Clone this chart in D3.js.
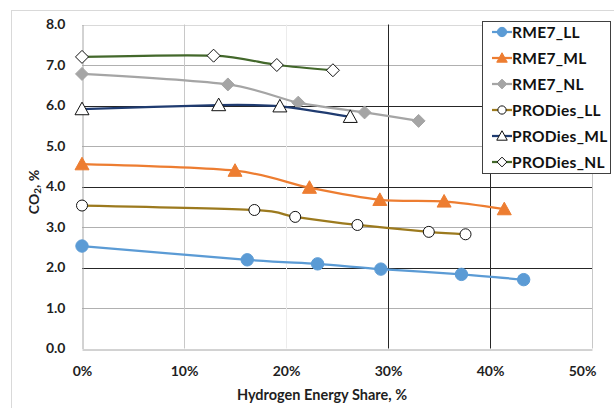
<!DOCTYPE html>
<html>
<head>
<meta charset="utf-8">
<script src="https://cdn.jsdelivr.net/npm/d3@7"></script>
<style>
  html, body { margin: 0; padding: 0; background: #fff; }
  svg { display: block; font-family: Lato, "Open Sans", sans-serif; }
</style>
</head>
<body>
<svg id="chart" width="614" height="408"></svg>
<script>
// Hydrogen energy share (%) and CO2 (%) per fuel / load series
const rme7LL_x = [0, 16.2, 23.1, 29.3, 37.2, 43.3];
const rme7LL_y = [2.53, 2.19, 2.09, 1.96, 1.83, 1.70];

const rme7ML_x = [0, 15.0, 22.3, 29.2, 35.5, 41.4];
const rme7ML_y = [4.55, 4.39, 3.97, 3.67, 3.63, 3.44];

const rme7NL_x = [0, 14.3, 21.2, 27.7, 33.0];
const rme7NL_y = [6.78, 6.52, 6.07, 5.83, 5.62];

const prodLL_x = [0, 16.9, 20.9, 27.0, 34.0, 37.6];
const prodLL_y = [3.53, 3.42, 3.25, 3.05, 2.88, 2.82];

const prodML_x = [0, 13.4, 19.4, 26.3];
const prodML_y = [5.91, 6.01, 5.98, 5.72];

const prodNL_x = [0, 12.9, 19.1, 24.6];
const prodNL_y = [7.20, 7.23, 7.00, 6.87];

const seriesNames = ["RME7_LL", "RME7_ML", "RME7_NL", "PRODies_LL", "PRODies_ML", "PRODies_NL"];
const xTicks = [0, 10, 20, 30, 40, 50];
const yTicks = [0, 1, 2, 3, 4, 5, 6, 7, 8];

const series = [
  { name: seriesNames[0], xs: rme7LL_x, ys: rme7LL_y, line: "#5b9bd5", shape: "circle",   fill: "#5b9bd5", stroke: "#5b9bd5", size: 6.2 },
  { name: seriesNames[1], xs: rme7ML_x, ys: rme7ML_y, line: "#ed7d31", shape: "triangle", fill: "#ed7d31", stroke: "#ed7d31", size: 7 },
  { name: seriesNames[2], xs: rme7NL_x, ys: rme7NL_y, line: "#a5a5a5", shape: "diamond",  fill: "#a5a5a5", stroke: "#a5a5a5", size: 6.5 },
  { name: seriesNames[3], xs: prodLL_x, ys: prodLL_y, line: "#9c7a1e", shape: "circle",   fill: "#fff",    stroke: "#111",    size: 5.5 },
  { name: seriesNames[4], xs: prodML_x, ys: prodML_y, line: "#1f3b70", shape: "triangle", fill: "#fff",    stroke: "#111",    size: 7 },
  { name: seriesNames[5], xs: prodNL_x, ys: prodNL_y, line: "#43682b", shape: "diamond",  fill: "#fff",    stroke: "#111",    size: 6.5 }
];

const svg = d3.select("#chart");

// outer chart frame
svg.append("rect")
  .attr("x", 11.5).attr("y", 10.5)
  .attr("width", 700).attr("height", 500)
  .attr("fill", "none").attr("stroke", "#d9d9d9");

const x = d3.scaleLinear().domain([0, 50]).range([82, 592]);
const y = d3.scaleLinear().domain([0, 8]).range([348.5, 24.5]);

// gridlines
const hDark = new Set([2, 4, 6]);
const vDark = new Set([30, 40]);
const grid = svg.append("g");
grid.selectAll("line.h").data(yTicks.filter(d => d > 0)).join("line")
  .attr("x1", x(0)).attr("x2", x(50))
  .attr("y1", d => Math.round(y(d)) + 0.5).attr("y2", d => Math.round(y(d)) + 0.5)
  .attr("stroke", d => hDark.has(d) ? "#262626" : (d === 8 ? "#d9d9d9" : "#b0b0b0"))
  .attr("stroke-width", 1);
grid.selectAll("line.v").data(xTicks.filter(d => d > 0)).join("line")
  .attr("y1", y(0)).attr("y2", y(8))
  .attr("x1", d => Math.round(x(d)) + 0.5).attr("x2", d => Math.round(x(d)) + 0.5)
  .attr("stroke", d => vDark.has(d) ? "#262626" : (d === 20 ? "#ececec" : "#c8c8c8"))
  .attr("stroke-width", 1);

// axes
const xAxis = svg.append("g")
  .attr("transform", `translate(0,${Math.round(y(0)) + 0.5})`)
  .call(d3.axisBottom(x).tickValues(xTicks).tickSize(0).tickPadding(17).tickFormat(d => d + "%"));
const yAxis = svg.append("g")
  .attr("transform", `translate(${Math.round(x(0)) + 0.5},0)`)
  .call(d3.axisLeft(y).tickValues(yTicks).tickSize(0).tickPadding(17).tickFormat(d3.format(".1f")));

[xAxis, yAxis].forEach(g => {
  g.select(".domain").attr("stroke", "#a6a6a6").attr("stroke-width", 1);
  g.selectAll("text")
    .attr("font-family", "Lato, sans-serif")
    .attr("font-size", 14).attr("font-weight", "bold").attr("fill", "#1f1f1f");
});
// keep the last x label inside the frame
xAxis.selectAll(".tick").filter(d => d === 50).select("text").attr("dx", -10);

// axis titles
svg.append("text")
  .attr("x", 322).attr("y", 400)
  .attr("text-anchor", "middle")
  .attr("font-size", 14.5).attr("font-weight", "bold").attr("fill", "#1f1f1f")
  .text("Hydrogen Energy Share, %");

const yTitle = svg.append("text")
  .attr("transform", "translate(39,192) rotate(-90)")
  .attr("text-anchor", "middle")
  .attr("font-size", 14).attr("font-weight", "bold").attr("fill", "#1f1f1f");
yTitle.append("tspan").text("CO");
yTitle.append("tspan").attr("font-size", 10).attr("dy", 2).text("2");
yTitle.append("tspan").attr("dy", -2).text(", %");

// marker drawing
function marker(g, shape, size, fill, stroke) {
  if (shape === "circle") {
    g.append("circle").attr("r", size).attr("fill", fill).attr("stroke", stroke).attr("stroke-width", 1);
  } else if (shape === "triangle") {
    const s = size;
    g.append("path")
      .attr("d", `M0,${-s}L${s},${s * 0.8}L${-s},${s * 0.8}Z`)
      .attr("fill", fill).attr("stroke", stroke).attr("stroke-width", 1);
  } else {
    const s = size;
    g.append("path")
      .attr("d", `M0,${-s}L${s},0L0,${s}L${-s},0Z`)
      .attr("fill", fill).attr("stroke", stroke).attr("stroke-width", 1);
  }
}

const lineGen = d3.line()
  .x(d => x(d[0])).y(d => y(d[1]))
  .curve(d3.curveCardinal.tension(0.15));

const plot = svg.append("g");
series.forEach(s => {
  const pts = s.xs.map((v, i) => [v, s.ys[i]]);
  plot.append("path")
    .datum(pts)
    .attr("d", lineGen)
    .attr("fill", "none")
    .attr("stroke", s.line)
    .attr("stroke-width", 2.25)
    .attr("stroke-linejoin", "round");
  pts.forEach(p => {
    const g = plot.append("g").attr("transform", `translate(${x(p[0])},${y(p[1])})`);
    marker(g, s.shape, s.size, s.fill, s.stroke);
  });
});

// legend
const legend = svg.append("g");
legend.append("rect")
  .attr("x", 482.5).attr("y", 21.5).attr("width", 128).attr("height", 152)
  .attr("fill", "#fff").attr("stroke", "#404040").attr("stroke-width", 1);
series.forEach((s, i) => {
  const cy = 32 + i * 26;
  const g = legend.append("g").attr("transform", `translate(0,${cy})`);
  g.append("line").attr("x1", 492).attr("x2", 512).attr("y1", 0).attr("y2", 0)
    .attr("stroke", s.line).attr("stroke-width", 2.25);
  const m = g.append("g").attr("transform", "translate(502,0)");
  marker(m, s.shape, s.size * 0.75, s.fill, s.stroke);
  g.append("text").attr("x", 512).attr("y", 5.5)
    .attr("font-size", 15.5).attr("font-weight", "bold").attr("fill", "#111")
    .attr("letter-spacing", 0.3)
    .text(s.name);
});
</script>
</body>
</html>
